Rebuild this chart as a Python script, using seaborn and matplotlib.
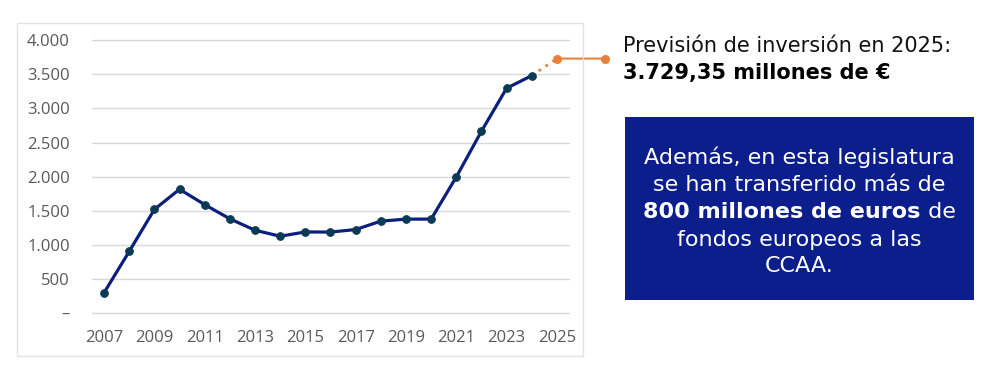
import matplotlib
matplotlib.use("Agg")
import matplotlib.pyplot as plt
import matplotlib.patches as mpatches
from matplotlib.transforms import offset_copy
import seaborn as sns
import pandas as pd

years = list(range(2007, 2025))
investment = [300, 905, 1520, 1815, 1590, 1382, 1215, 1127, 1190, 1188, 1225,
              1348, 1378, 1378, 1995, 2665, 3295, 3480]
forecast_year = 2025
forecast_value = 3729.35
xtick_years = list(range(2007, 2026, 2))
ytick_values = [0, 500, 1000, 1500, 2000, 2500, 3000, 3500, 4000]
ytick_labels = ["–", "500", "1.000", "1.500", "2.000", "2.500", "3.000", "3.500", "4.000"]

headline = "Previsión de inversión en 2025:"
headline_value = "3.729,35 millones de €"
box_lines = ["Además, en esta legislatura", "se han transferido más de",
             None, "fondos europeos a las", "CCAA."]
box_bold = "800 millones de euros"
box_regular = " de"

NAVY = "#0c1f7c"
MARKER = "#0a3a55"
ORANGE = "#e8803a"
BOX = "#0b1e8c"
GRAY = "#595959"
TXT_FONT = ["DejaVu Sans"]

sns.set_style("white")
plt.rcParams["font.family"] = ["Open Sans", "DejaVu Sans"]

fig = plt.figure(figsize=(10, 3.75), dpi=100)
ax = fig.add_axes([0.092, 1 - 320 / 375, 0.570 - 0.092, (320 - 35) / 375])

df = pd.DataFrame({"year": years, "value": investment})
sns.lineplot(data=df, x="year", y="value", ax=ax, color=NAVY, linewidth=2.3,
             marker="o", markersize=5.5, markerfacecolor=MARKER,
             markeredgecolor=MARKER, zorder=3)

# forecast dotted segment
ax.plot([years[-1], forecast_year], [investment[-1], forecast_value],
        color=ORANGE, linestyle=(0, (1, 2)), linewidth=2, zorder=2)
ax.plot([forecast_year], [forecast_value], marker="o", markersize=5.5,
        color=ORANGE, zorder=4, clip_on=False)
ax.annotate("", xy=(forecast_year, forecast_value), xytext=(34.5, 0),
            textcoords="offset points",
            arrowprops=dict(arrowstyle="-", color=ORANGE, lw=1.5,
                            shrinkA=0, shrinkB=0), annotation_clip=False)
ax.plot([forecast_year], [forecast_value], marker="o", markersize=5.5,
        color=ORANGE, clip_on=False,
        transform=offset_copy(ax.transData, fig=fig, x=48, y=0, units="dots"))

ax.set_xlim(2006.52, 2025.52)
ax.set_ylim(-100, 4075)
ax.set_xticks(xtick_years)
ax.set_xticklabels([str(y) for y in xtick_years])
ax.set_yticks(ytick_values)
ax.set_yticklabels(ytick_labels)
ax.tick_params(axis="both", length=0, labelsize=12, colors=GRAY)
ax.tick_params(axis="y", pad=16)
ax.tick_params(axis="x", pad=7)
ax.set_xlabel("")
ax.set_ylabel("")
ax.grid(axis="y", color="#d9d9d9", linewidth=1)
for s in ax.spines.values():
    s.set_visible(False)

# outer chart frame
fig.patches.append(mpatches.Rectangle((17 / 1000, 1 - 356 / 375), 566 / 1000, 333 / 375,
                                      transform=fig.transFigure, fill=False,
                                      edgecolor="#e3e3e3", linewidth=1, zorder=0))

# headline text
fig.text(0.623, 1 - 46 / 375, headline, fontsize=15, color="#111111",
         va="center", ha="left", family=TXT_FONT)
fig.text(0.623, 1 - 73 / 375, headline_value, fontsize=15, fontweight="bold",
         color="#000000", va="center", ha="left", family=TXT_FONT)

# blue box
fig.patches.append(mpatches.Rectangle((625 / 1000, 1 - 300 / 375), 349 / 1000, 183 / 375,
                                      transform=fig.transFigure, facecolor=BOX,
                                      edgecolor="none", zorder=1))
cx = (625 + 974) / 2 / 1000
line_y = [157, 185, 212, 240, 266]
for ln, py in zip(box_lines, line_y):
    if ln is not None:
        fig.text(cx, 1 - py / 375, ln, fontsize=16, color="white",
                 ha="center", va="center", zorder=2, family=TXT_FONT)

# mixed bold line
fig.canvas.draw()
r = fig.canvas.get_renderer()
tb = fig.text(0, 1 - line_y[2] / 375, box_bold, fontsize=16, fontweight="bold",
              color="white", ha="left", va="center", zorder=2, family=TXT_FONT)
tr = fig.text(0, 1 - line_y[2] / 375, box_regular, fontsize=16,
              color="white", ha="left", va="center", zorder=2, family=TXT_FONT)
wb = tb.get_window_extent(r).width / fig.bbox.width
wr = tr.get_window_extent(r).width / fig.bbox.width
start = cx - (wb + wr) / 2
tb.set_x(start)
tr.set_x(start + wb)

fig.savefig("out.png", dpi=100)
